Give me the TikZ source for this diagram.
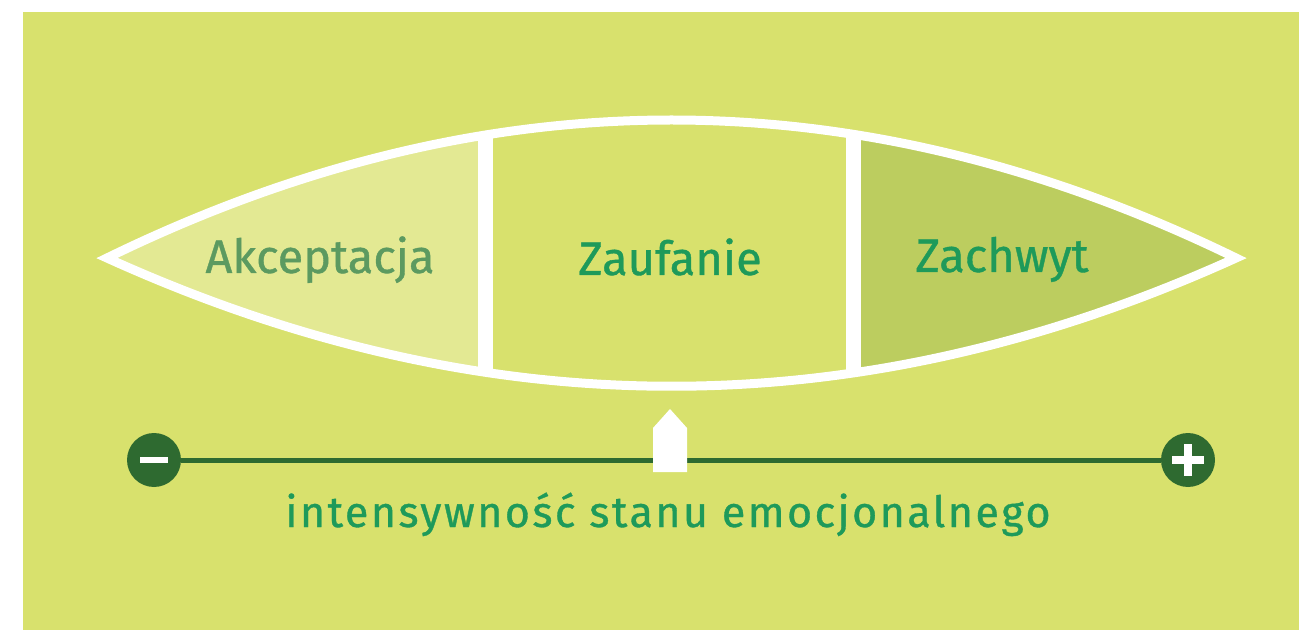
\documentclass[tikz,border=0pt]{standalone}
\usepackage{fontspec}
\setmainfont{Fira Sans}[FakeBold=0.8]
\usetikzlibrary{calc}
\definecolor{tlo}{HTML}{D8E16D}
\definecolor{jasny}{HTML}{E3E993}
\definecolor{ciemny}{HTML}{BCCD5F}
\definecolor{osgreen}{HTML}{2E6A30}
\definecolor{napis}{HTML}{1E9A5A}
\definecolor{napisjasny}{HTML}{5C9A60}
\tikzset{
  etykieta/.style={anchor=base,inner sep=0pt,font=\fontsize{47}{50}\selectfont},
  koniec/.style={circle,fill=osgreen,minimum size=54pt,inner sep=0pt},
}
\begin{document}
\begin{tikzpicture}[line cap=round,line join=round,x=1pt,y=1pt]
                \useasboundingbox (0,0) rectangle (1299,630);
                \fill [tlo] (23,0) rectangle (1299,618);
                \begin{scope}
                    \clip (107,372) .. controls (484,556) and (859,556) .. (1236,372)
                                    .. controls (859,201) and (484,201) .. (107,372) -- cycle;
                    \fill [jasny] (90,150) rectangle (485,600);
                    \fill [ciemny] (853,150) rectangle (1260,600);
                    \draw [white,line width=15pt] (485,150) -- (485,600);
                    \draw [white,line width=15pt] (853,150) -- (853,600);
                \end{scope}
                \draw [white,line width=9pt,line join=miter] (107,372) .. controls (484,556) and (859,556) .. (1236,372)
                                    .. controls (859,201) and (484,201) .. (107,372) -- cycle;
                \node [etykieta,text=napisjasny] (akceptacja) at (320,357) {Akceptacja};
                \node [etykieta,text=napis] (zaufanie) at (670,355) {Zaufanie};
                \node [etykieta,text=napis] (zachwyt) at (1002,358) {Zachwyt};
                % os intensywnosci
                \node [koniec] (minus) at (154,170) {};
                \node [koniec] (plus) at (1188,170) {};
                \draw [osgreen,line width=5pt,line cap=butt] (minus) -- (plus);
                \fill [white] ($(minus)+(-14,-3)$) rectangle ($(minus)+(14,3)$);
                \fill [white] ($(plus)+(-16,-4)$) rectangle ($(plus)+(16,4)$);
                \fill [white] ($(plus)+(-4,-16)$) rectangle ($(plus)+(4,16)$);
                \fill [white] (653,158) -- (653,202) -- (670,221) -- (687,202) -- (687,158) -- cycle;
                \node [anchor=base,inner sep=0pt,text=napis,font=\fontsize{43}{46}\selectfont\addfontfeatures{LetterSpace=5.7}] (podpis) at (668,103) {intensywność stanu emocjonalnego};
            \end{tikzpicture}
\end{document}
